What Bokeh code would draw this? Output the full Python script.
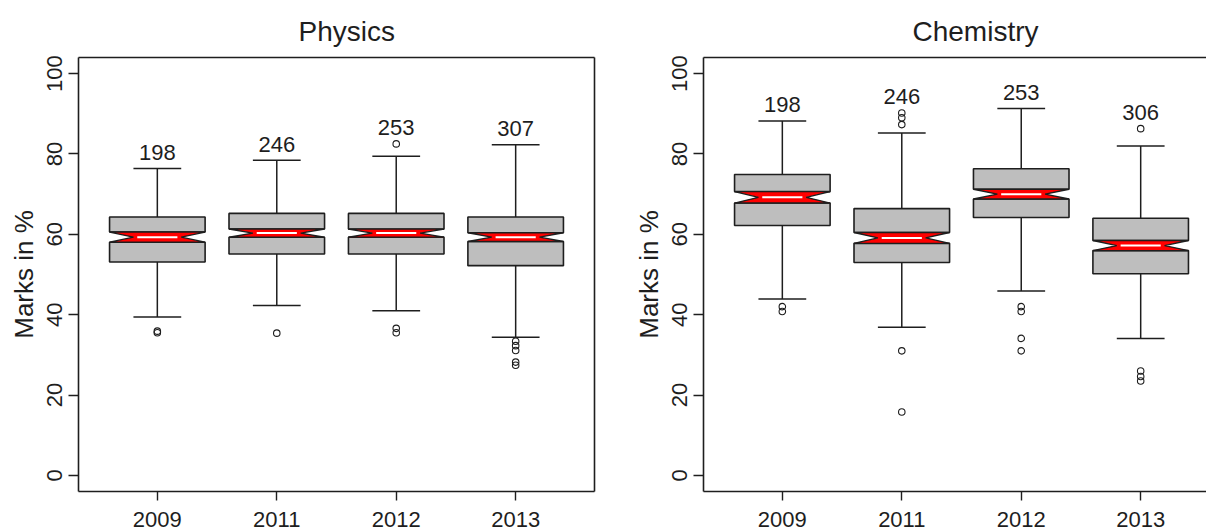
import math
from bokeh.plotting import figure
from bokeh.layouts import row
from bokeh.models import LinearAxis, FixedTicker, Range1d
from bokeh.embed import file_html
from bokeh.resources import INLINE
from bokeh.core.properties import value

# ---------------- data ----------------
years = ["2009", "2011", "2012", "2013"]
y_ticks = [0, 20, 40, 60, 80, 100]

phys_q1 = [53.1, 55.1, 55.1, 52.2]
phys_med = [59.3, 60.3, 60.3, 59.3]
phys_q3 = [64.3, 65.2, 65.2, 64.3]
phys_lw = [39.4, 42.3, 41.0, 34.4]
phys_uw = [76.4, 78.4, 79.4, 82.3]
phys_n = [198, 246, 253, 307]
phys_out = [[35.9, 35.5], [35.4], [82.5, 36.6, 35.5], [33.4, 32.3, 31.1, 28.2, 27.4]]

chem_q1 = [62.2, 53.0, 64.2, 50.2]
chem_med = [69.2, 59.1, 70.0, 57.2]
chem_q3 = [74.9, 66.4, 76.3, 64.0]
chem_lw = [43.9, 36.9, 45.9, 34.1]
chem_uw = [88.2, 85.2, 91.3, 82.0]
chem_n = [198, 246, 253, 306]
chem_out = [[42.0, 40.8], [90.2, 89.0, 87.3, 31.0, 15.8], [42.0, 40.8, 34.1, 31.0], [86.3, 26.0, 24.6, 23.5]]

FONT = "Liberation Sans"
INK = "#1e1e1e"
BOXW = 0.4
CAPW = 0.2


def empty_axis():
    ax = LinearAxis(ticker=FixedTicker(ticks=[]), major_tick_out=0, major_tick_in=0,
                    minor_tick_out=0, minor_tick_in=0, major_label_standoff=0,
                    major_label_text_font_size="0px", axis_line_color=INK, axis_line_width=1.6)
    return ax


def panel(title, q1, med, q3, lw, uw, n, outs, width, b_left, b_right, x_end, draw_right, title_off):
    p = figure(width=width, height=532, x_range=Range1d(0.34, x_end), y_range=Range1d(-4, 104),
               output_backend="svg", toolbar_location=None,
               min_border_left=b_left, min_border_right=b_right,
               min_border_top=57, min_border_bottom=41)
    p.outline_line_color = None
    p.xgrid.visible = False
    p.ygrid.visible = False
    p.background_fill_color = "white"
    p.border_fill_color = "white"

    p.title.text = title
    p.title.align = "left"
    p.title.offset = title_off
    p.title.text_font = FONT
    p.title.text_font_size = "28px"
    p.title.text_font_style = "normal"
    p.title.text_color = INK
    p.title.standoff = 22

    xs = list(range(1, len(years) + 1))
    nh = [m + 1.58 * (c - a) / math.sqrt(k) for m, a, c, k in zip(med, q1, q3, n)]
    nl = [m - 1.58 * (c - a) / math.sqrt(k) for m, a, c, k in zip(med, q1, q3, n)]

    # whiskers
    p.segment(x0=xs + xs, y0=q3 + q1, x1=xs + xs, y1=uw + lw, line_color=INK, line_width=1.5)
    # staples
    p.segment(x0=[x - CAPW for x in xs] * 2, y0=uw + lw, x1=[x + CAPW for x in xs] * 2, y1=uw + lw,
              line_color=INK, line_width=1.5)
    # box halves
    p.quad(left=[x - BOXW for x in xs], right=[x + BOXW for x in xs], bottom=nh, top=q3,
           fill_color="#bebebe", line_color=INK, line_width=1.6)
    p.quad(left=[x - BOXW for x in xs], right=[x + BOXW for x in xs], bottom=q1, top=nl,
           fill_color="#bebebe", line_color=INK, line_width=1.6)
    # red notch
    pxs = [[x - BOXW, x + BOXW, x + BOXW / 2, x + BOXW, x - BOXW, x - BOXW / 2] for x in xs]
    pys = [[h, h, m, l, l, m] for h, m, l in zip(nh, med, nl)]
    p.patches(xs=pxs, ys=pys, fill_color="#ff0000", line_color=INK, line_width=1.4)
    # median
    p.segment(x0=[x - BOXW * 0.42 for x in xs], y0=med, x1=[x + BOXW * 0.42 for x in xs], y1=med,
              line_color="white", line_width=2)
    # outliers
    ox, oy = [], []
    for x, vals in zip(xs, outs):
        for v in vals:
            ox.append(x)
            oy.append(v)
    p.scatter(x=ox, y=oy, marker="circle", size=6.5, fill_color=None, line_color=INK, line_width=1.1)
    # counts
    tops = [max([u] + o) + 4 for u, o in zip(uw, outs)]
    p.text(x=xs, y=tops, text=[str(k) for k in n], text_align="center", text_baseline="middle",
           text_font=value(FONT), text_font_size="22px", text_color=INK)

    # axes
    p.xaxis.ticker = FixedTicker(ticks=xs)
    p.xaxis.major_label_overrides = {x: y for x, y in zip(xs, years)}
    p.yaxis.ticker = FixedTicker(ticks=y_ticks)
    p.yaxis.major_label_orientation = "parallel"
    p.yaxis.axis_label = "Marks in %"
    for ax in (p.xaxis, p.yaxis):
        ax.axis_line_color = INK
        ax.axis_line_width = 1.6
        ax.major_tick_line_color = INK
        ax.major_tick_line_width = 1.4
        ax.major_tick_in = 0
        ax.minor_tick_line_color = None
        ax.major_label_text_font = FONT
        ax.major_label_text_font_size = "22px"
        ax.major_label_text_color = INK
        ax.axis_label_text_font = FONT
        ax.axis_label_text_font_size = "26px"
        ax.axis_label_text_font_style = "normal"
        ax.axis_label_text_color = INK
    p.xaxis.major_tick_out = 9
    p.xaxis.major_label_standoff = 11
    p.yaxis.major_tick_out = 10
    p.yaxis.major_label_standoff = 6
    p.yaxis.axis_label_standoff = 6

    p.add_layout(empty_axis(), "above")
    if draw_right:
        p.add_layout(empty_axis(), "right")
    return p


p1 = panel("Physics", phys_q1, phys_med, phys_q3, phys_lw, phys_uw, phys_n, phys_out,
           600, 78, 6, 4.66, True, 220)
p2 = panel("Chemistry", chem_q1, chem_med, chem_q3, chem_lw, chem_uw, chem_n, chem_out,
           606, 103, 0, 4.551, False, 209)

layout = row(p1, p2)
open("out.html", "w").write(file_html(layout, INLINE))
